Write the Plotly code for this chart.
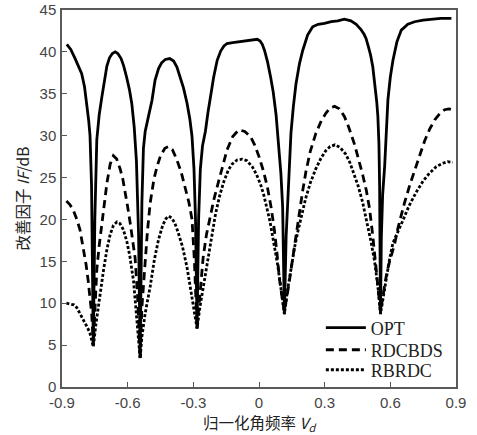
import plotly.graph_objects as go

# OPT (solid)
opt_x = [-0.878, -0.86, -0.84, -0.825, -0.81, -0.797, -0.787, -0.778, -0.772, -0.765, -0.757,
         -0.750, -0.741, -0.730, -0.718, -0.705, -0.695, -0.683, -0.670, -0.657, -0.645, -0.630,
         -0.618, -0.605, -0.592, -0.581, -0.570, -0.560, -0.550, -0.543,
         -0.535, -0.528, -0.520, -0.505, -0.489, -0.475, -0.459, -0.445, -0.428, -0.408, -0.390,
         -0.375, -0.359, -0.345, -0.329, -0.316, -0.306, -0.297, -0.290, -0.283,
         -0.276, -0.268, -0.258, -0.245, -0.233, -0.222, -0.207, -0.191, -0.175, -0.160, -0.146,
         -0.120, -0.090, -0.060, -0.030, -0.008, 0.005, 0.015, 0.025, 0.039, 0.053, 0.065, 0.078,
         0.090, 0.100, 0.108, 0.116,
         0.124, 0.131, 0.140, 0.146, 0.157, 0.169, 0.185, 0.200, 0.222, 0.245, 0.270, 0.299, 0.330,
         0.360, 0.390, 0.420, 0.444, 0.465, 0.480, 0.489, 0.500, 0.510, 0.520, 0.530, 0.538, 0.543,
         0.548, 0.551, 0.555,
         0.559, 0.565, 0.574, 0.580, 0.589, 0.600, 0.612, 0.630, 0.650, 0.680, 0.711, 0.750, 0.787,
         0.830, 0.879]
opt_y = [40.9, 40.3, 39.2, 38.3, 37.4, 35.8, 33.9, 31.8, 30.0, 24.0, 5.0,
         20.0, 29.5, 32.5, 34.6, 36.9, 38.3, 39.3, 39.8, 40.0, 39.8, 39.2,
         38.3, 37.0, 35.5, 33.8, 31.0, 27.0, 18.0, 3.5,
         22.0, 28.5, 30.5, 32.3, 34.2, 36.6, 38.0, 38.7, 39.1, 39.2, 38.9,
         38.2, 37.0, 35.7, 33.9, 32.0, 29.9, 26.0, 20.0, 7.0,
         20.0, 26.0, 28.8, 30.5, 32.8, 34.7, 37.0, 39.0, 40.1, 40.7, 41.0,
         41.1, 41.2, 41.3, 41.4, 41.5, 41.3, 40.9, 40.2, 38.8, 37.0, 35.2, 32.5,
         29.0, 25.5, 21.5, 8.7,
         18.0, 22.3, 27.5, 30.3, 33.5, 36.2, 38.6, 40.2, 42.0, 43.0, 43.3, 43.4, 43.6,
         43.7, 43.9, 43.7, 43.3, 42.7, 42.1, 41.6, 40.6, 39.6, 38.2, 36.2, 34.0, 32.3,
         29.0, 24.0, 8.7,
         18.0, 23.0, 26.3, 30.0, 34.3, 37.0, 39.0, 41.2, 42.6, 43.3, 43.6, 43.8, 43.9,
         44.0, 44.0]

# RDCBDS (dashed)
rdc_x = [-0.880, -0.865, -0.850, -0.835, -0.818, -0.802, -0.790, -0.780, -0.770, -0.764, -0.757,
         -0.741, -0.730, -0.718, -0.705, -0.695, -0.680, -0.665, -0.650, -0.634, -0.622, -0.611,
         -0.600, -0.588, -0.577, -0.566, -0.555, -0.543,
         -0.535, -0.525, -0.510, -0.497, -0.480, -0.466, -0.450, -0.430, -0.413, -0.395, -0.375,
         -0.355, -0.337, -0.320, -0.306, -0.295, -0.283,
         -0.270, -0.255, -0.240, -0.222, -0.205, -0.184, -0.165, -0.146, -0.120, -0.092, -0.065,
         -0.039, -0.020, 0.000, 0.020, 0.038, 0.055, 0.070, 0.082, 0.093, 0.105, 0.116,
         0.135, 0.154, 0.170, 0.184, 0.200, 0.215, 0.235, 0.260, 0.285, 0.306, 0.325, 0.345, 0.367,
         0.390, 0.410, 0.436, 0.455, 0.474, 0.490, 0.505, 0.520, 0.535, 0.545, 0.555,
         0.570, 0.585, 0.600, 0.619, 0.635, 0.650, 0.665, 0.690, 0.711, 0.735, 0.757, 0.780, 0.803,
         0.825, 0.848, 0.868, 0.886]
rdc_y = [22.2, 21.8, 21.2, 20.2, 18.8, 16.6, 14.6, 12.6, 10.2, 8.6, 5.0,
         14.0, 16.9, 19.5, 22.2, 24.3, 26.6, 27.6, 27.2, 26.0, 24.8, 23.3,
         21.5, 19.5, 17.5, 15.4, 11.0, 3.4,
         9.5, 13.5, 18.5, 22.0, 24.8, 26.3, 27.6, 28.5, 28.7, 28.3, 27.1,
         25.6, 23.9, 22.0, 20.0, 15.0, 7.0,
         11.5, 15.5, 18.2, 20.5, 22.5, 24.6, 26.6, 28.3, 29.9, 30.7, 30.5,
         29.9, 28.9, 27.5, 25.8, 23.9, 21.5, 18.8, 16.0, 13.0, 10.8, 9.0,
         12.0, 15.5, 18.5, 20.8, 23.5, 25.8, 28.2, 30.3, 31.8, 32.7, 33.3, 33.5, 33.2,
         32.3, 31.0, 29.0, 27.3, 25.3, 23.5, 21.3, 18.0, 14.0, 11.5, 9.0,
         11.5, 13.8, 15.3, 17.0, 19.0, 20.7, 22.0, 24.2, 25.9, 27.8, 29.4, 30.8, 31.9,
         32.6, 33.1, 33.2, 33.1]

# RBRDC (dotted)
rbr_x = [-0.880, -0.860, -0.845, -0.833, -0.820, -0.808, -0.795, -0.782, -0.772, -0.763, -0.757,
         -0.745, -0.735, -0.726, -0.710, -0.695, -0.680, -0.665, -0.649, -0.635, -0.620, -0.604,
         -0.590, -0.573, -0.560, -0.550, -0.543,
         -0.535, -0.520, -0.497, -0.478, -0.459, -0.440, -0.425, -0.413, -0.400, -0.385, -0.370,
         -0.350, -0.329, -0.310, -0.298, -0.283,
         -0.270, -0.255, -0.237, -0.220, -0.199, -0.180, -0.161, -0.140, -0.123, -0.100, -0.077,
         -0.055, -0.031, -0.012, 0.007, 0.022, 0.038, 0.050, 0.062, 0.075, 0.085, 0.100, 0.116,
         0.130, 0.146, 0.162, 0.177, 0.195, 0.213, 0.235, 0.259, 0.283, 0.305, 0.325, 0.347, 0.370,
         0.396, 0.415, 0.434, 0.453, 0.473, 0.485, 0.496, 0.512, 0.528, 0.543, 0.555,
         0.568, 0.581, 0.596, 0.612, 0.635, 0.656, 0.685, 0.717, 0.750, 0.778, 0.810, 0.839, 0.862,
         0.885]
rbr_y = [10.0, 9.9, 9.8, 9.5, 8.9, 8.3, 7.6, 7.0, 6.4, 5.6, 4.8,
         7.5, 9.5, 11.0, 14.0, 16.4, 18.2, 19.3, 19.7, 19.5, 18.8, 17.4,
         15.6, 12.6, 9.0, 6.0, 3.4,
         6.0, 8.8, 12.0, 15.2, 17.6, 19.3, 20.1, 20.4, 20.2, 19.6, 18.5,
         16.8, 14.3, 11.5, 9.5, 7.0,
         9.5, 11.8, 14.5, 17.5, 20.6, 22.8, 24.5, 25.9, 26.6, 27.1, 27.2,
         27.0, 26.3, 25.4, 24.2, 22.9, 21.3, 19.8, 18.0, 16.2, 14.6, 11.8, 8.7,
         11.5, 14.3, 16.6, 18.5, 20.6, 22.5, 24.4, 26.0, 27.3, 28.2, 28.7, 28.9, 28.6,
         27.8, 26.8, 25.5, 24.0, 22.1, 20.7, 19.3, 17.3, 15.0, 12.0, 8.7,
         10.8, 12.8, 15.2, 17.2, 18.5, 19.8, 21.6, 23.2, 24.6, 25.5, 26.3, 26.7, 26.9,
         26.8]

x_ticks = [-0.9, -0.6, -0.3, 0, 0.3, 0.6, 0.9]
x_tick_labels = ["-0.9", "-0.6", "-0.3", "0", "0.3", "0.6", "0.9"]
y_ticks = [0, 5, 10, 15, 20, 25, 30, 35, 40, 45]

fig = go.Figure()
fig.add_trace(go.Scatter(x=opt_x, y=opt_y, mode="lines", name="OPT", legend="legend",
                         line=dict(color="black", width=2.8)))
fig.add_trace(go.Scatter(x=rdc_x, y=rdc_y, mode="lines", name="RDCBDS", legend="legend2",
                         line=dict(color="black", width=2.8, dash="8px,5px")))
fig.add_trace(go.Scatter(x=rbr_x, y=rbr_y, mode="lines", name="RBRDC", legend="legend3",
                         line=dict(color="black", width=2.8, dash="3px,2px")))

leg_font = dict(family="Liberation Serif, Times New Roman", size=18, color="#222")
def leg(yc):
    return dict(x=0.657, y=yc, xanchor="left", yanchor="middle", font=leg_font,
                bgcolor="rgba(0,0,0,0)", itemwidth=40)

title_font = dict(family="Noto Sans CJK SC, Liberation Serif", size=15.5, color="#222")
axis_font = dict(family="Liberation Sans, Arial", size=15, color="#444")
fig.update_layout(
    width=477, height=435,
    margin=dict(l=62, r=21, t=10, b=48, autoexpand=False),
    paper_bgcolor="white", plot_bgcolor="white",
    showlegend=True,
    legend=leg(0.1565), legend2=leg(0.098), legend3=leg(0.045),
    xaxis=dict(range=[-0.9, 0.9], tickvals=x_ticks, ticktext=x_tick_labels,
               ticks="inside", ticklen=5, tickcolor="#555", showgrid=False, zeroline=False,
               showline=True, linecolor="#5a5a5a", linewidth=1.5, mirror=True, automargin=False,
               tickfont=axis_font, ticklabelstandoff=1),
    yaxis=dict(range=[0, 45], tickvals=y_ticks,
               ticks="inside", ticklen=5, tickcolor="#555", showgrid=False, zeroline=False,
               showline=True, linecolor="#5a5a5a", linewidth=1.5, mirror=True, automargin=False,
               tickfont=axis_font, ticklabelstandoff=1),
    annotations=[
        dict(text="归一化角频率 <i>V<sub>d</sub></i>", xref="paper", yref="paper",
             x=0.5, y=-0.096, xanchor="center", yanchor="middle", showarrow=False,
             font=title_font),
        dict(text="改善因子 <i>IF</i>/dB", xref="paper", yref="paper",
             x=-0.104, y=0.5, xanchor="center", yanchor="middle", showarrow=False,
             textangle=-90, font=title_font),
    ],
)

fig.write_html("out.html", config={"displayModeBar": False},
               post_script="document.body.style.margin='0';")
